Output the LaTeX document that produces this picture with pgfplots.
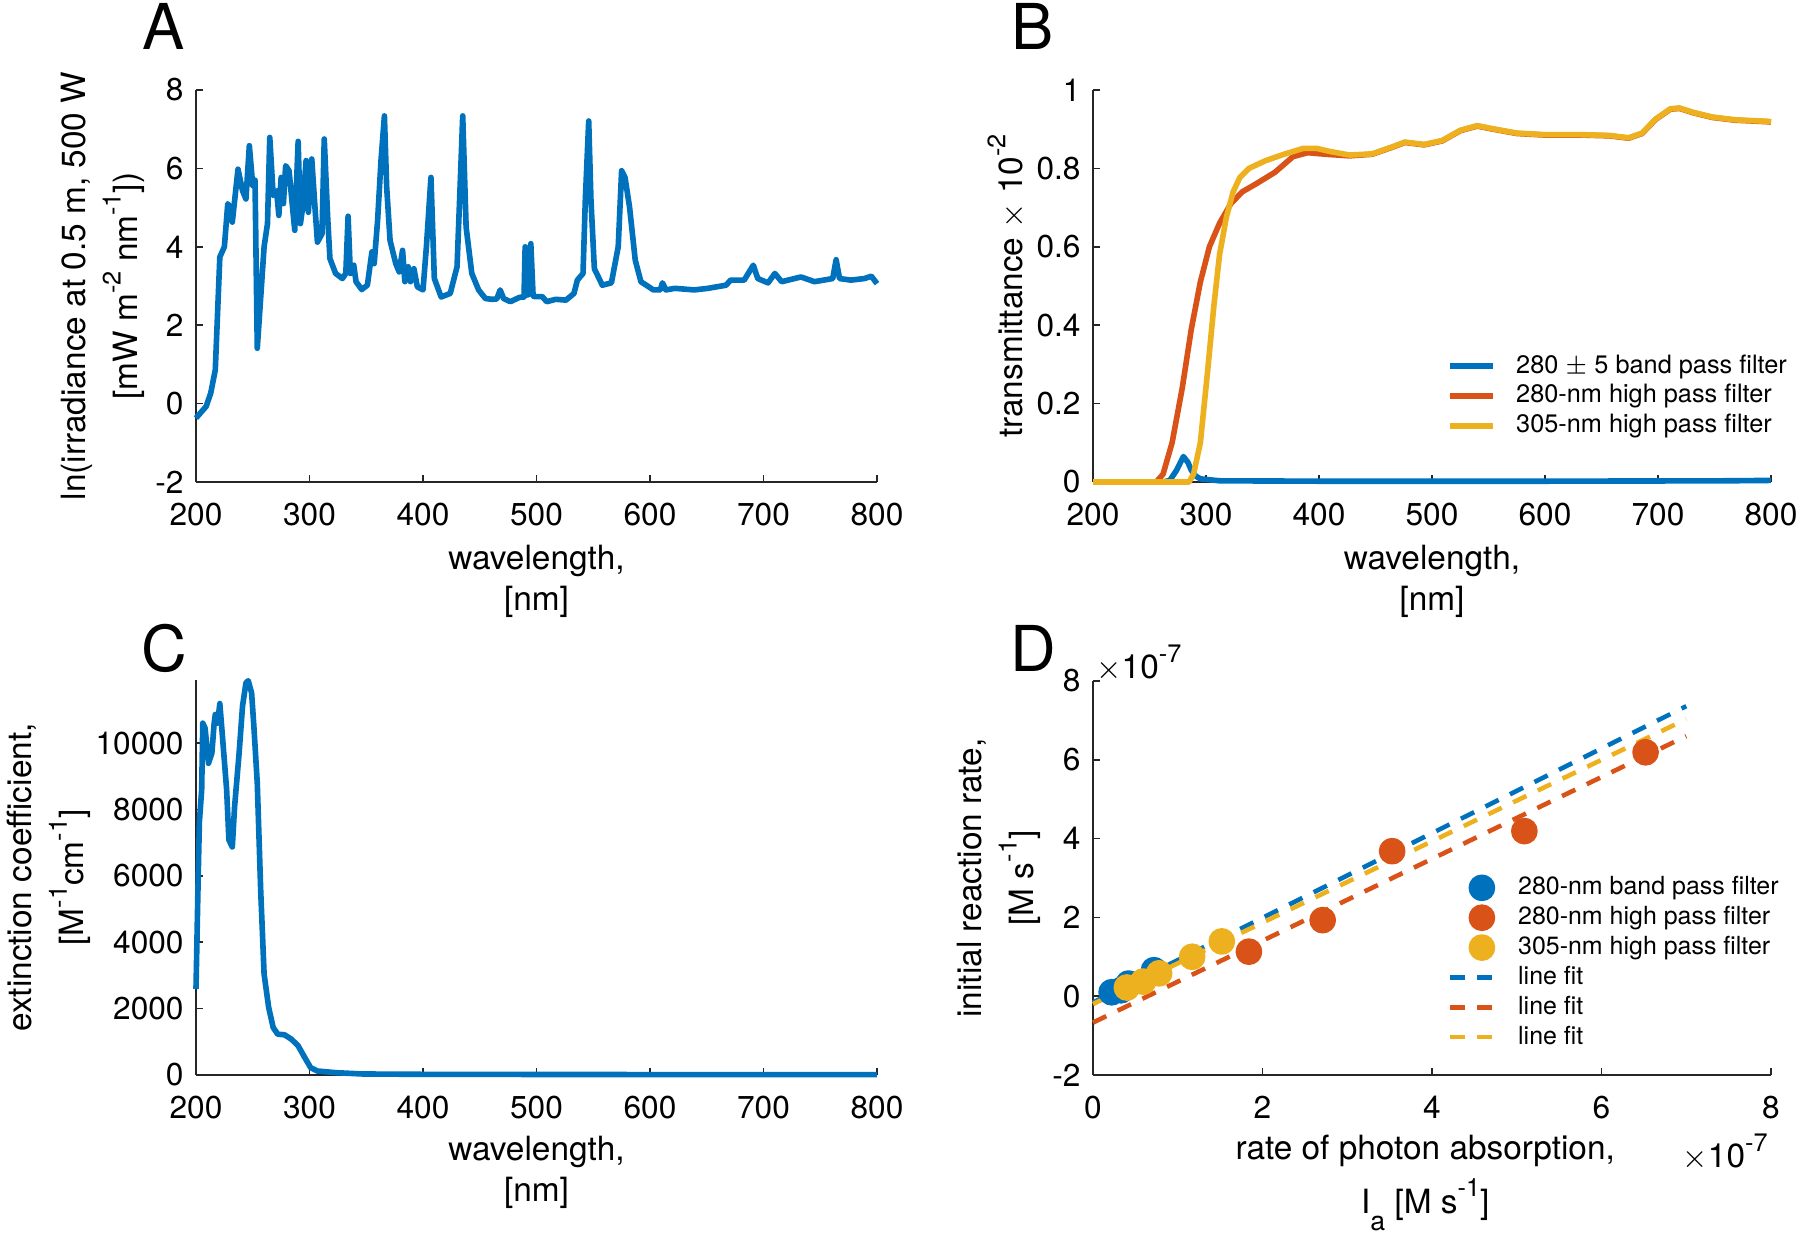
\documentclass[border=0pt]{standalone}
\usepackage{pgfplots}
\pgfplotsset{compat=1.18}
\usepackage{fontspec}
\setmainfont{TeX Gyre Heros}
\definecolor{mblue}{HTML}{0072BD}
\definecolor{morange}{HTML}{D95319}
\definecolor{myellow}{HTML}{EDB120}
\definecolor{axgray}{HTML}{262626}
\newcommand\msup[1]{\raisebox{0.95ex}{\fontsize{7.2}{7.2}\selectfont #1}}
\newcommand\msub[1]{\raisebox{-0.95ex}{\fontsize{7.6}{7.6}\selectfont #1}}
\newcommand\labfont{\fontsize{9.5}{11.6}\selectfont\lineskiplimit=-100pt\relax}

\pgfplotsset{
  mstyle/.style={
    scale only axis,
    axis lines*=left,
    axis line style={-, draw=axgray, line width=0.45pt},
    tick align=inside,
    major tick length=0.07cm,
    tick style={draw=axgray, line width=0.45pt},
    /pgf/number format/assume math mode=true,
    /pgf/number format/1000 sep={},
    scaled ticks=false,
    tick label style={font=\fontsize{9}{10.5}\selectfont, text=black},
    xticklabel style={yshift=-2.6pt},
    label style={font=\labfont, align=center},
    clip=false,
    anchor=south west,
    every axis plot/.append style={line width=1.6pt, line join=round},
  },
}

\pgfplotstableread{
x y
200 -0.37
209 -0.07
213 0.27
217 0.86
221 3.74
225 4.0
228 5.1
230 5.0
232 4.63
237 5.98
241 5.43
244 5.22
247 6.58
250 5.56
252 5.7
254 1.41
260 4.0
263 4.59
265 6.79
268 5.31
271 5.43
273 4.8
275 5.77
277 5.1
279 6.07
282 5.94
287 4.42
290 6.69
292 4.59
294 5.01
297 6.2
299 4.88
302 6.24
305 4.93
307 4.12
311 4.33
313 6.75
316 4.76
318 3.7
323 3.32
329 3.19
332 3.32
334 4.78
336 3.32
339 3.53
341 3.11
346 2.91
351 3.02
355 3.87
357 3.57
360 4.67
363 6.2
366 7.34
368 5.52
371 4.16
376 3.57
379 3.36
382 3.91
384 3.11
387 3.49
389 3.11
392 3.44
395 2.98
400 2.9
403 4.0
407 5.77
410 3.19
416 2.72
424 2.81
430 3.49
433 5.77
435 7.34
438 4.5
443 3.32
449 2.9
455 2.68
461 2.66
465 2.67
468 2.9
471 2.68
477 2.6
485 2.71
489 2.72
490 4.0
491 2.8
492 2.77
494 2.8
495 4.08
497 2.75
498 2.73
505 2.73
509 2.6
517 2.66
526 2.64
533 2.81
536 3.15
541 3.32
543 5.18
546 7.21
548 5.18
551 3.44
558 3.02
566 3.08
572 4.0
575 5.94
578 5.77
582 5.01
587 3.66
592 3.11
603 2.9
609 2.9
611 3.08
614 2.9
622 2.94
639 2.9
651 2.94
667 3.02
671 3.15
683 3.15
691 3.53
695 3.19
704 3.08
710 3.32
716 3.11
733 3.23
745 3.11
761 3.19
764 3.67
767 3.19
777 3.15
789 3.19
795 3.25
800 3.06
}\irrad

\pgfplotstableread{
x y
200 0
256 0
262 0.02
270 0.1
279 0.24
287 0.39
295 0.51
303 0.6
312 0.66
322 0.71
332 0.74
344 0.76
361 0.79
377 0.83
390 0.84
406 0.836
427 0.832
447 0.836
464 0.853
476 0.866
493 0.86
509 0.87
525 0.896
540 0.908
554 0.9
575 0.889
600 0.885
632 0.885
657 0.883
674 0.877
686 0.889
698 0.925
711 0.951
719 0.953
731 0.942
748 0.93
768 0.923
797 0.919
800 0.918
}\orangeB

\pgfplotstableread{
x y
200 0
285 0
289 0.02
295 0.1
301 0.27
307 0.45
312 0.58
318 0.675
324 0.74
330 0.777
338 0.8
353 0.82
369 0.836
386 0.851
398 0.851
410 0.843
427 0.834
447 0.837
464 0.854
476 0.867
493 0.861
509 0.871
525 0.897
540 0.909
554 0.901
575 0.89
600 0.886
632 0.886
657 0.884
674 0.878
686 0.89
698 0.926
711 0.952
719 0.954
731 0.943
748 0.931
768 0.924
797 0.92
800 0.919
}\yellowB

\pgfplotstableread{
x y
200 0
262 0
268 0.004
274 0.03
280 0.065
284 0.05
287 0.03
291 0.015
295 0.008
312 0.003
400 0.002
600 0.002
760 0.003
800 0.004
}\blueB

\pgfplotstableread{
x y
200 2590
202 6070
203 7630
205 8590
206 10600
208 10450
211 9390
214 9700
216 10600
217 10860
219 10600
221 11190
224 9900
227 8590
229 7080
232 6870
234 8080
238 9700
241 11110
244 11810
246 11880
249 11510
251 10500
254 8790
257 5560
260 3040
264 2040
268 1430
272 1230
278 1210
284 1080
290 880
295 575
301 220
307 120
323 70
347 30
400 20
600 12
800 10
}\extinc

\pgfplotstableread{
x y
0.22 0.10
0.33 0.15
0.42 0.32
0.72 0.66
}\Dblue
\pgfplotstableread{
x y
1.84 1.13
2.71 1.93
3.53 3.68
5.09 4.19
6.52 6.19
}\Dorange
\pgfplotstableread{
x y
0.40 0.22
0.59 0.37
0.78 0.58
1.17 1.00
1.52 1.39
}\Dyellow

\begin{document}
\begin{tikzpicture}
\path (0,0) rectangle (18cm,12.33cm);

% Panel A
\begin{axis}[mstyle,
  at={(1.96cm,7.51cm)}, width=6.81cm, height=3.92cm,
  xmin=200, xmax=800, ymin=-2, ymax=8,
  xtick={200,300,...,800}, ytick={-2,0,...,8},
  xlabel={wavelength,\\[0pt][nm]},
  ylabel={ln(irradiance at 0.5 m, 500 W\\[3.1pt][mW m\msup{-2} nm\msup{-1}])},
  xlabel style={at={(axis description cs:0.5,-0.253)}, anchor=center},
  ylabel style={at={(axis description cs:-0.137,0.5)}, anchor=center},
]
\addplot[mblue] table[x=x,y=y] {\irrad};
\end{axis}

% Panel B
\begin{axis}[mstyle,
  at={(10.93cm,7.51cm)}, width=6.78cm, height=3.92cm,
  xmin=200, xmax=800, ymin=0, ymax=1,
  xtick={200,300,...,800}, ytick={0,0.2,0.4,0.6,0.8,1},
  yticklabels={0,0.2,0.4,0.6,0.8,1},
  xlabel={wavelength,\\[0pt][nm]},
  ylabel={transmittance $\times$ 10\msup{-2}},
  xlabel style={at={(axis description cs:0.5,-0.253)}, anchor=center},
  ylabel style={at={(axis description cs:-0.128,0.5)}, anchor=center},
  legend image code/.code={\draw[#1] (0cm,0cm) -- (0.43cm,0cm);},
  legend style={at={(0.522,0.329)}, anchor=north west, draw=none, fill=none,
    font=\fontsize{7.2}{8.5}\selectfont, inner sep=0pt, row sep=1.5pt, column sep=0.2cm,
    nodes={inner sep=0pt, text height=5.5pt, text depth=1.5pt}},
  legend cell align=left,
]
\addplot[mblue] table[x=x,y=y] {\blueB};
\addplot[morange] table[x=x,y=y] {\orangeB};
\addplot[myellow] table[x=x,y=y] {\yellowB};
\legend{280 $\pm$ 5 band pass filter, 280-nm high pass filter, 305-nm high pass filter}
\end{axis}

% Panel C
\begin{axis}[mstyle,
  at={(1.96cm,1.58cm)}, width=6.81cm, height=3.95cm,
  xmin=200, xmax=800, ymin=0, ymax=11900,
  xtick={200,300,...,800}, ytick={0,2000,...,10000},
  xlabel={wavelength,\\[0pt][nm]},
  ylabel={extinction coefficient,\\[3.1pt][M\msup{-1}cm\msup{-1}]},
  xlabel style={at={(axis description cs:0.5,-0.246)}, anchor=center},
  ylabel style={at={(axis description cs:-0.216,0.5)}, anchor=center},
]
\addplot[mblue] table[x=x,y=y] {\extinc};
\end{axis}

% Panel D
\begin{axis}[mstyle,
  at={(10.93cm,1.58cm)}, width=6.78cm, height=3.94cm,
  xmin=0, xmax=8, ymin=-2, ymax=8,
  xtick={0,2,...,8}, ytick={-2,0,...,8},
  xlabel={rate of photon absorption,\\[3.7pt]I\msub{a} [M s\msup{-1}]},
  ylabel={initial reaction rate,\\[3.1pt][M s\msup{-1}]},
  xlabel style={at={(axis description cs:0.49,-0.274)}, anchor=center},
  ylabel style={at={(axis description cs:-0.139,0.5)}, anchor=center},
  legend image code/.code={\draw[#1] (0cm,0cm) -- (0.49cm,0cm);},
  legend style={at={(0.522,0.508)}, anchor=north west, draw=none, fill=none,
    font=\fontsize{7.1}{8.5}\selectfont, inner sep=0pt, row sep=1.5pt, column sep=0.17cm,
    nodes={inner sep=0pt, text height=5.5pt, text depth=1.5pt}},
  legend cell align=left,
  markleg/.style={legend image code/.code={\draw[##1] plot coordinates {(0.32cm,0cm)};}},
]
\addplot[only marks, mark=*, mark size=3pt, mark options={draw=mblue, fill=mblue}, markleg] table[x=x,y=y] {\Dblue};
\addplot[only marks, mark=*, mark size=3pt, mark options={draw=morange, fill=morange}, markleg] table[x=x,y=y] {\Dorange};
\addplot[only marks, mark=*, mark size=3pt, mark options={draw=myellow, fill=myellow}, markleg] table[x=x,y=y] {\Dyellow};
\addplot[mblue, line width=1.3pt, dash pattern=on 4.2pt off 3.6pt] coordinates {(0,-0.16) (7,7.36)};
\addplot[morange, line width=1.3pt, dash pattern=on 4.2pt off 3.6pt] coordinates {(0,-0.67) (7,6.60)};
\addplot[myellow, line width=1.3pt, dash pattern=on 4.2pt off 3.6pt] coordinates {(0,-0.20) (7,7.03)};
\legend{280-nm band pass filter, 280-nm high pass filter, 305-nm high pass filter, line fit, line fit, line fit}
\node[anchor=west, font=\fontsize{9.5}{10}\selectfont, inner sep=0pt] at (axis description cs:0.004,1.045) {$\times$10\msup{-7}};
\node[anchor=east, font=\fontsize{9.5}{10}\selectfont, inner sep=0pt] at (axis description cs:0.996,-0.196) {$\times$10\msup{-7}};
\end{axis}

\node[font=\fontsize{18}{20}\selectfont, inner sep=0pt] at (1.64cm,12.07cm) {A};
\node[font=\fontsize{18}{20}\selectfont, inner sep=0pt] at (10.33cm,12.07cm) {B};
\node[font=\fontsize{18}{20}\selectfont, inner sep=0pt] at (1.64cm,5.85cm) {C};
\node[font=\fontsize{18}{20}\selectfont, inner sep=0pt] at (10.33cm,5.85cm) {D};

\pgfresetboundingbox
\path[use as bounding box] (0,0) rectangle (18cm,12.33cm);
\end{tikzpicture}
\end{document}
